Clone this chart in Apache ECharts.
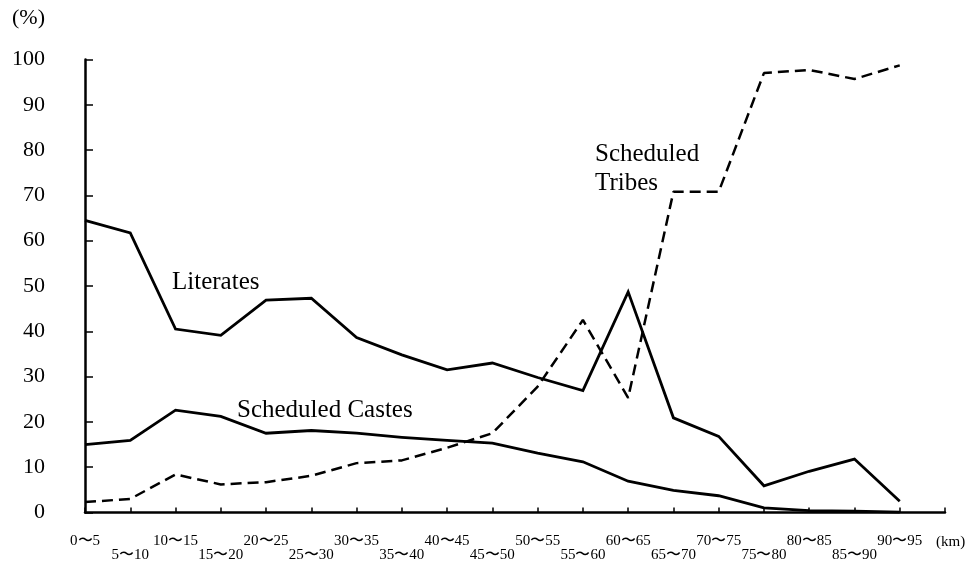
<!DOCTYPE html>
<html>
<head>
<meta charset="utf-8">
<script src="https://cdn.jsdelivr.net/npm/echarts@6/dist/echarts.min.js"></script>
<style>
  html, body { margin: 0; padding: 0; background: #fff; }
  #chart { width: 969px; height: 564px; }
</style>
</head>
<body>
<div id="chart"></div>
<script>
// Distance bands from the town centre (km)
const distanceBands = ['0〜5', '5〜10', '10〜15', '15〜20', '20〜25', '25〜30', '30〜35', '35〜40',
  '40〜45', '45〜50', '50〜55', '55〜60', '60〜65', '65〜70', '70〜75', '75〜80', '80〜85',
  '85〜90', '90〜95'];

// Share of population (%) in each band
const literates = [64.5, 61.7, 40.5, 39.1, 46.9, 47.3, 38.6, 34.8, 31.5, 33.0, 29.8, 26.9,
  48.7, 20.9, 16.8, 5.9, 9.1, 11.8, 2.5];
const scheduledCastes = [15.0, 15.9, 22.6, 21.2, 17.5, 18.1, 17.5, 16.6, 15.9, 15.3, 13.1, 11.2,
  6.9, 4.9, 3.7, 1.0, 0.4, 0.3, 0.1];
const scheduledTribes = [2.3, 3.0, 8.4, 6.2, 6.7, 8.1, 10.9, 11.5, 14.3, 17.5, 27.8, 42.5,
  25.3, 70.8, 70.8, 97.0, 97.7, 95.7, 98.7];

const yTicks = [0, 10, 20, 30, 40, 50, 60, 70, 80, 90, 100];

// one extra empty slot so the axis runs a band past the last point
const categories = distanceBands.concat(['']);

const serif = '"Liberation Serif", "Times New Roman", serif';

const chart = echarts.init(document.getElementById('chart'), null, { renderer: 'canvas' });

const solid = (name, data) => ({
  name, type: 'line', data, symbol: 'none', silent: true,
  lineStyle: { color: '#000', width: 2.8, join: 'miter' }
});

chart.setOption({
  animation: false,
  backgroundColor: '#fff',
  grid: { left: 85, right: 24, top: 59.5, bottom: 51.5, containLabel: false, outerBoundsMode: 'none' },
  xAxis: {
    type: 'category',
    data: categories,
    boundaryGap: false,
    axisLine: { lineStyle: { color: '#000', width: 2.5 } },
    axisTick: { inside: true, length: 5, interval: 0, lineStyle: { color: '#000', width: 1.5 } },
    axisLabel: {
      interval: 0,
      margin: 22,
      fontFamily: serif, fontSize: 15, lineHeight: 14, color: '#000',
      formatter: (v, i) => (i % 2 ? '\n' + v : v)
    },
    splitLine: { show: false }
  },
  yAxis: {
    type: 'value',
    min: yTicks[0],
    max: yTicks[yTicks.length - 1],
    interval: yTicks[1] - yTicks[0],
    name: '(%)',
    nameLocation: 'end',
    nameGap: 41,
    nameTextStyle: {
      fontFamily: serif, fontSize: 22, color: '#000',
      align: 'right', verticalAlign: 'middle', padding: [0, 40, 0, 0]
    },
    axisLine: { show: true, lineStyle: { color: '#000', width: 2.5 } },
    axisTick: { show: true, inside: true, length: 8, lineStyle: { color: '#000', width: 1.5 } },
    axisLabel: { margin: 40, fontFamily: serif, fontSize: 22, color: '#000' },
    splitLine: { show: false }
  },
  series: [
    solid('Literates', literates),
    solid('Scheduled Castes', scheduledCastes),
    {
      name: 'Scheduled Tribes', type: 'line', data: scheduledTribes, symbol: 'none', silent: true,
      lineStyle: { color: '#000', width: 2.5, type: [11, 6] }
    }
  ],
  graphic: [
    { type: 'text', left: 172, top: 270, silent: true,
      style: { text: 'Literates', font: '25px ' + serif, fill: '#000' } },
    { type: 'text', left: 237, top: 398, silent: true,
      style: { text: 'Scheduled Castes', font: '25px ' + serif, fill: '#000' } },
    { type: 'text', left: 595, top: 140, silent: true,
      style: { text: 'Scheduled\nTribes', font: '25px ' + serif, lineHeight: 29, fill: '#000' } },
    // unit of the distance axis
    { type: 'text', left: 936, top: 535, silent: true,
      style: { text: '(km)', font: '15px ' + serif, fill: '#000' } }
  ]
});
</script>
</body>
</html>
